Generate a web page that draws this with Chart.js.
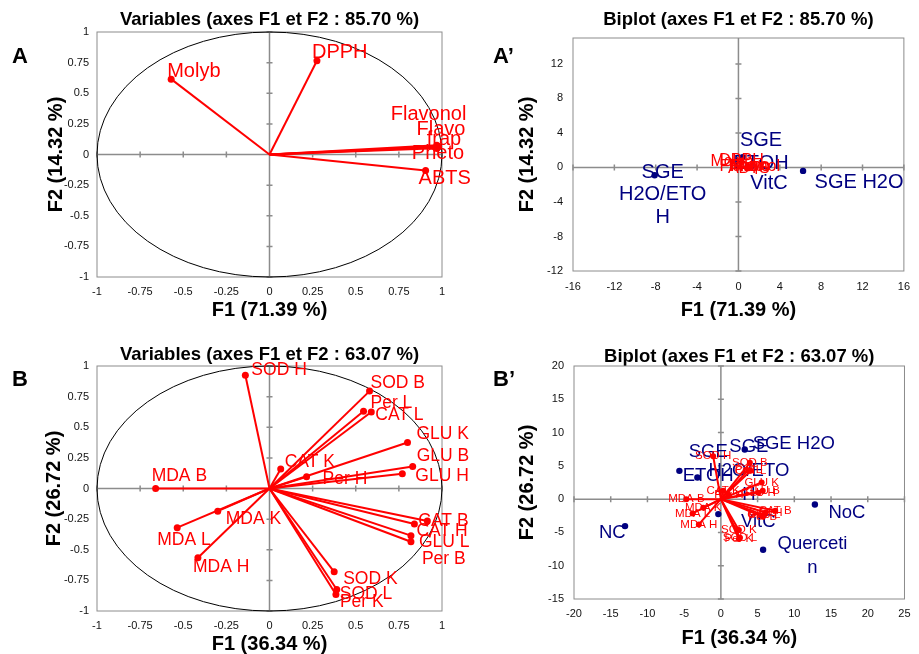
<!DOCTYPE html>
<html>
<head>
<meta charset="utf-8">
<script src="https://cdn.jsdelivr.net/npm/chart.js@4.4.1/dist/chart.umd.min.js"></script>
<style>
  body { margin: 0; background: #fff; }
  #wrap { position: relative; width: 919px; height: 654px; overflow: hidden; }
  canvas { position: absolute; }
  .tag { position: absolute; font: bold 22px "Liberation Sans", Arial, sans-serif; line-height: 22px; color: #000; }
</style>
</head>
<body>
<div id="wrap">
  <canvas id="chartA" width="480" height="327" style="left:0;top:0"></canvas>
  <canvas id="chartA2" width="439" height="327" style="left:480px;top:0"></canvas>
  <canvas id="chartB" width="480" height="327" style="left:0;top:327px"></canvas>
  <canvas id="chartB2" width="439" height="327" style="left:480px;top:327px"></canvas>
  <div class="tag" style="left:12px;top:45px">A</div>
  <div class="tag" style="left:493px;top:45px">A’</div>
  <div class="tag" style="left:12px;top:368px">B</div>
  <div class="tag" style="left:493px;top:368px">B’</div>
</div>
<script>
// ---- panel A : correlation circle (F1 71.39 %, F2 14.32 %)
const varsA = ["Molyb", "DPPH", "Flavonol", "Flavo", "frap", "Pheto", "ABTS"];
const f1A = [-0.57, 0.275, 0.97, 0.98, 0.975, 0.97, 0.905];
const f2A = [0.615, 0.765, 0.075, 0.065, 0.06, 0.05, -0.13];

// ---- panel A' : biplot
const obsA = ["SGE\nH2O/ETO\nH", "SGE H2O", "SGE\nETOH", "VitC"];
const obsF1A = [-8.1, 6.25, 0.4, 0.9];
const obsF2A = [-0.9, -0.4, 1.2, 0.1];
const bipF1A = [-0.65, 0.3, 1.1, 1.1, 1.08, 1.08, 1.0];
const bipF2A = [0.65, 0.85, 0.08, 0.07, 0.07, 0.05, -0.15];

// ---- panel B : correlation circle (F1 36.34 %, F2 26.72 %)
const varsB = ["SOD H", "SOD B", "Per L", "CAT L", "GLU K", "GLU B", "GLU H", "CAT K", "Per H", "MDA B",
  "MDA K", "MDA L", "MDA H", "CAT B", "CAT H", "GLU L", "Per B", "SOD K", "SOD L", "Per K"];
const f1B = [-0.14, 0.58, 0.545, 0.59, 0.80, 0.83, 0.77, 0.065, 0.215, -0.66,
  -0.30, -0.535, -0.415, 0.915, 0.84, 0.82, 0.82, 0.375, 0.39, 0.385];
const f2B = [0.925, 0.795, 0.63, 0.625, 0.375, 0.18, 0.12, 0.16, 0.095, 0.0,
  -0.185, -0.32, -0.565, -0.265, -0.29, -0.385, -0.435, -0.68, -0.825, -0.865];

// ---- panel B' : biplot
const obsB = ["NC", "NoC", "Querceti\nn", "VitC", "SGE\nETOH", "SGE\nH2O/ETO\nH", "SGE H2O"];
const obsF1B = [-13.05, 12.8, 5.75, -0.35, -5.65, -3.2, 3.25];
const obsF2B = [-4.05, -0.8, -7.6, -2.25, 4.25, 3.25, 7.45];
const bipF1B = [-1.05, 3.95, 3.75, 4.05, 5.55, 5.7, 5.1, 0.3, 1.1, -4.7,
  -2.4, -3.85, -3.0, 7.4, 6.1, 5.85, 5.7, 2.45, 2.6, 2.45];
const bipF2B = [6.45, 5.45, 4.35, 4.25, 2.5, 1.25, 0.95, 1.25, 0.6, 0.0,
  -1.3, -2.15, -3.8, -1.75, -2.0, -2.4, -2.65, -4.65, -5.8, -6.0];

// tick labels
const ticksCircle = [-1, -0.75, -0.5, -0.25, 0, 0.25, 0.5, 0.75, 1];
const ticksA2x = [-16, -12, -8, -4, 0, 4, 8, 12, 16];
const ticksA2y = [-12, -8, -4, 0, 4, 8, 12];
const ticksB2x = [-20, -15, -10, -5, 0, 5, 10, 15, 20, 25];
const ticksB2y = [-15, -10, -5, 0, 5, 10, 15, 20];

// label nudges in px (dx, dy) from each point
const offA = [[-4, -7.5], [-5, -8.5], [-46, -31], [-22, -17.5], [-11, -8], [-25, 5], [-7, 8]];
const offB = [[6, -5], [1, -8], [7, -8], [4, 3], [9, -8], [4, -10], [13, 2], [4, -7], [16, 2], [-4, -12],
  [8, 8], [-20, 12], [-5, 9], [-9, 0], [2, 7], [8, 7], [11, 17], [9, 7], [3, 5], [4, 8]];
const offObsA = [[8, -3], [56, 11.5], [18.5, -16.3], [21.3, 16.5]];
const offObsB = [[-12.8, 7.3], [32, 8.4], [49.4, -6.3], [40, 8], [28.8, -19], [51.5, -30.7], [49, -6]];

const RED = "#ff0000", NAVY = "#000080", AXIS = "#8c8c8c";
const FAM = '"Liberation Sans", Arial, Helvetica, sans-serif';
Chart.defaults.font.family = FAM;
Chart.defaults.color = "#000";

// gray box, zero axes with little ticks, and the unit circle
const pcaFrame = {
  id: "pcaFrame",
  beforeDatasetsDraw(chart, args, opts) {
    const { ctx, chartArea: a, scales: { x, y } } = chart;
    const x0 = x.getPixelForValue(0), y0 = y.getPixelForValue(0);
    ctx.save();
    ctx.strokeStyle = AXIS;
    ctx.lineWidth = 1;
    ctx.strokeRect(a.left, a.top, a.width, a.height);
    ctx.lineWidth = 1.5;
    ctx.beginPath();
    ctx.moveTo(a.left, y0); ctx.lineTo(a.right, y0);
    ctx.moveTo(x0, a.top); ctx.lineTo(x0, a.bottom);
    x.ticks.forEach(t => {
      if (t.value === 0) return;
      const p = x.getPixelForValue(t.value);
      ctx.moveTo(p, y0 - 3); ctx.lineTo(p, y0 + 3);
    });
    y.ticks.forEach(t => {
      if (t.value === 0) return;
      const p = y.getPixelForValue(t.value);
      ctx.moveTo(x0 - 3, p); ctx.lineTo(x0 + 3, p);
    });
    ctx.stroke();
    if (opts.circle) {
      ctx.strokeStyle = "#000";
      ctx.lineWidth = 1;
      ctx.beginPath();
      ctx.ellipse(x0, y0, x.getPixelForValue(1) - x0, y0 - y.getPixelForValue(1), 0, 0, Math.PI * 2);
      ctx.stroke();
    }
    ctx.restore();
  }
};

// text next to points, drawn right after its own dataset
const pointLabels = {
  id: "pointLabels",
  afterDatasetDraw(chart, args) {
    const lab = chart.data.datasets[args.index].labelSpec;
    if (!lab) return;
    const ctx = chart.ctx;
    ctx.save();
    ctx.font = lab.font;
    ctx.fillStyle = lab.color;
    ctx.textAlign = lab.align;
    ctx.textBaseline = "middle";
    args.meta.data.forEach((pt, i) => {
      const txt = lab.texts[i];
      if (!txt) return;
      const off = lab.offsets[i] || [0, 0];
      txt.split("\n").forEach((line, k) => {
        ctx.fillText(line, pt.x + off[0], pt.y + off[1] + k * lab.lineHeight);
      });
    });
    ctx.restore();
  }
};

function vectors(f1, f2, names, offs, style) {
  return names.map((n, i) => ({
    data: [{ x: 0, y: 0 }, { x: f1[i], y: f2[i] }],
    showLine: true,
    borderColor: RED,
    borderWidth: style.lw,
    pointRadius: [0, style.r],
    pointBackgroundColor: RED,
    pointBorderWidth: 0,
    clip: false,
    labelSpec: {
      texts: [null, n], offsets: [null, offs ? offs[i] : [0, 0]],
      font: style.font, color: RED, align: style.align, lineHeight: 0
    }
  }));
}

function observations(f1, f2, names, offs, font, lh) {
  return {
    data: f1.map((v, i) => ({ x: v, y: f2[i] })),
    pointRadius: 3.2,
    pointBackgroundColor: NAVY,
    pointBorderWidth: 0,
    clip: false,
    labelSpec: { texts: names, offsets: offs, font: font, color: NAVY, align: "center", lineHeight: lh }
  };
}

function panel(id, o) {
  const fixTicks = list => s => { s.ticks = list.map(v => ({ value: v })); };
  return new Chart(document.getElementById(id), {
    type: "scatter",
    data: { datasets: o.datasets },
    options: {
      responsive: false,
      animation: false,
      events: [],
      layout: { padding: { left: 0, top: 0, bottom: 0, right: o.padRight } },
      plugins: {
        legend: { display: false },
        tooltip: { enabled: false },
        title: {
          display: true, text: o.title, fullSize: false, color: "#000",
          font: { size: 18.5, weight: "bold", lineHeight: 1 },
          padding: o.titlePad
        },
        pcaFrame: { circle: o.circle }
      },
      scales: {
        x: {
          type: "linear",
          min: o.xTicks[0], max: o.xTicks[o.xTicks.length - 1],
          afterBuildTicks: fixTicks(o.xTicks),
          afterFit: s => { s.height = o.xH; },
          grid: { display: false, drawTicks: false },
          border: { display: false },
          ticks: { padding: o.xTickPad, autoSkip: false, maxRotation: 0, color: "#111",
            font: { size: 11 }, callback: v => String(v) },
          title: { display: true, text: o.xTitle, color: "#000",
            font: { size: 20, weight: "bold", lineHeight: 1 },
            padding: { top: 0, bottom: o.xTitlePad } }
        },
        y: {
          type: "linear",
          min: o.yTicks[0], max: o.yMax,
          afterBuildTicks: fixTicks(o.yTicks),
          afterFit: s => { s.width = o.yW; },
          grid: { display: false, drawTicks: false },
          border: { display: false },
          ticks: { padding: o.yTickPad, autoSkip: false, color: "#111",
            font: { size: 11 }, callback: v => String(v) },
          title: { display: true, text: o.yTitle, color: "#000",
            font: { size: 20, weight: "bold", lineHeight: 1 },
            padding: { top: o.yTitlePad, bottom: 0 } }
        }
      }
    },
    plugins: [pcaFrame, pointLabels]
  });
}

panel("chartA", {
  title: "Variables (axes F1 et F2 : 85.70 %)",
  xTitle: "F1 (71.39 %)", yTitle: "F2 (14.32 %)",
  xTicks: ticksCircle, yTicks: ticksCircle, yMax: 1, circle: true,
  padRight: 38, yW: 97, xH: 50,
  titlePad: { top: 10.75, bottom: 2.75 },
  xTickPad: 8, yTickPad: 8, xTitlePad: 7, yTitlePad: 46,
  datasets: vectors(f1A, f2A, varsA, offA, { lw: 2, r: 3.5, font: "20px " + FAM, align: "left" })
});

panel("chartA2", {
  title: "Biplot (axes F1 et F2 : 85.70 %)",
  xTitle: "F1 (71.39 %)", yTitle: "F2 (14.32 %)",
  xTicks: ticksA2x, yTicks: ticksA2y, yMax: 15, circle: false,
  padRight: 13, yW: 93, xH: 56,
  titlePad: { top: 10.75, bottom: 8.75 },
  xTickPad: 9, yTickPad: 10, xTitlePad: 7, yTitlePad: 37,
  datasets: vectors(bipF1A, bipF2A, varsA, null, { lw: 1.5, r: 2.5, font: "16px " + FAM, align: "center" })
    .concat([observations(obsF1A, obsF2A, obsA, offObsA, "20px " + FAM, 22.5)])
});

panel("chartB", {
  title: "Variables (axes F1 et F2 : 63.07 %)",
  xTitle: "F1 (36.34 %)", yTitle: "F2 (26.72 %)",
  xTicks: ticksCircle, yTicks: ticksCircle, yMax: 1, circle: true,
  padRight: 38, yW: 97, xH: 43,
  titlePad: { top: 18.75, bottom: 1.75 },
  xTickPad: 8, yTickPad: 8, xTitlePad: 0, yTitlePad: 44,
  datasets: vectors(f1B, f2B, varsB, offB, { lw: 2, r: 3.5, font: "17.5px " + FAM, align: "left" })
});

panel("chartB2", {
  title: "Biplot (axes F1 et F2 : 63.07 %)",
  xTitle: "F1 (36.34 %)", yTitle: "F2 (26.72 %)",
  xTicks: ticksB2x, yTicks: ticksB2y, yMax: 20, circle: false,
  padRight: 7.3, yW: 94, xH: 55,
  titlePad: { top: 20.45, bottom: 0.05 },
  xTickPad: 8.4, yTickPad: 10, xTitlePad: 5.7, yTitlePad: 37,
  datasets: vectors(bipF1B, bipF2B, varsB, null, { lw: 2, r: 3, font: "11.5px " + FAM, align: "center" })
    .concat([observations(obsF1B, obsF2B, obsB, offObsB, "18.5px " + FAM, 24)])
});
</script>
</body>
</html>
